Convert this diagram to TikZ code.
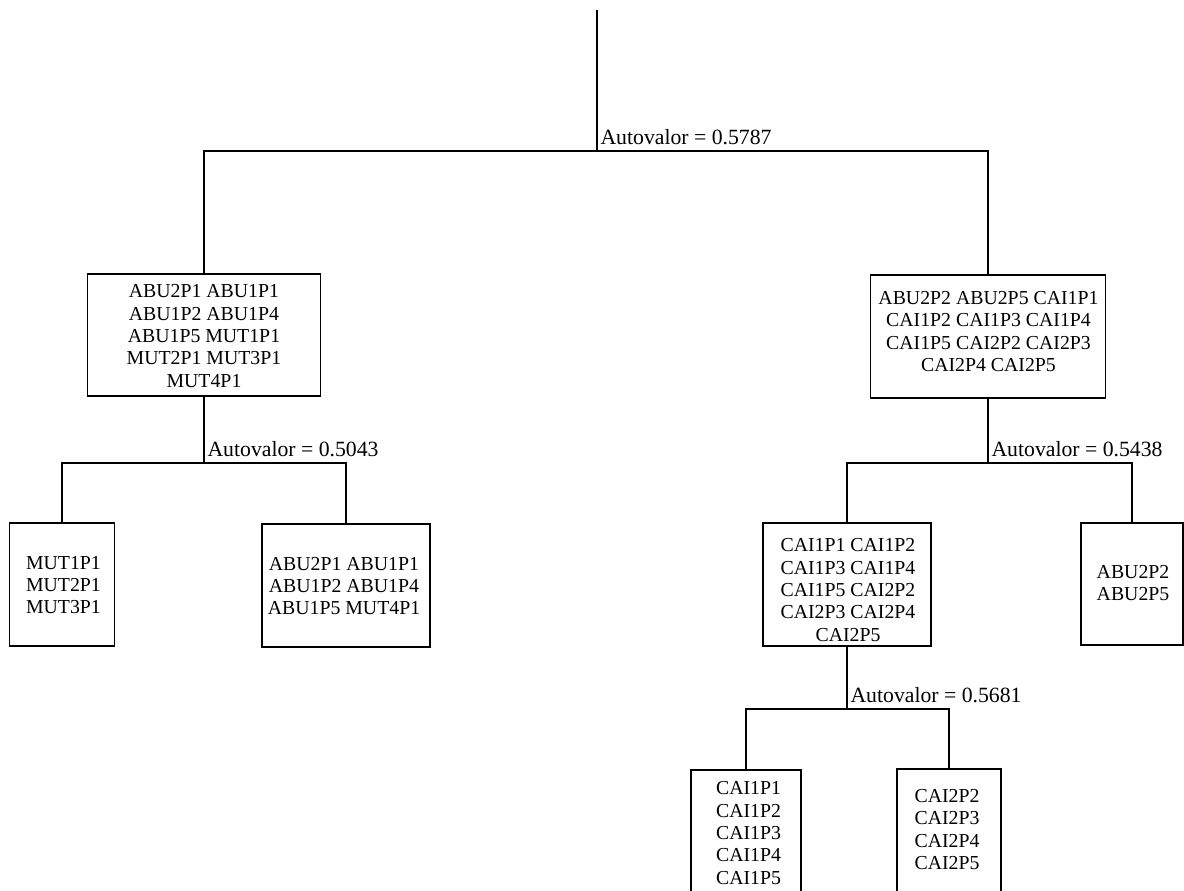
\documentclass[tikz,border=0pt]{standalone}
\usepackage{fontspec}
\setmainfont{Liberation Serif}
\begin{document}
\begin{tikzpicture}[x=0.75pt,y=-0.75pt,
  line width=1.3pt,
  box/.style={draw, inner sep=0pt},
  txt/.style={align=center, inner sep=0pt, font=\fontsize{14.85}{16.8}\selectfont},
  lab/.style={anchor=base west, inner sep=0pt, font=\fontsize{16.3}{19}\selectfont}]
\useasboundingbox (0,0) rectangle (1184,890);
\clip (0,0) rectangle (1184,890);
\fill[white] (0,0) rectangle (1184,890);

% cluster boxes
\node[box, minimum width=233*0.75pt, minimum height=122*0.75pt] (b1) at (204,335) {};
\node[txt] (t1) at (204,336) {ABU2P1 ABU1P1\\ABU1P2 ABU1P4\\ABU1P5 MUT1P1\\MUT2P1 MUT3P1\\MUT4P1};

\node[box, minimum width=235*0.75pt, minimum height=123*0.75pt] (b2) at (988,336.5) {};
\node[txt] (t2) at (988.5,331.5) {ABU2P2 ABU2P5 CAI1P1\\CAI1P2 CAI1P3 CAI1P4\\CAI1P5 CAI2P2 CAI2P3\\CAI2P4 CAI2P5};

\node[box, minimum width=105*0.75pt, minimum height=123*0.75pt] (b3) at (62,584.5) {};
\node[txt] (t3) at (63.5,585) {MUT1P1\\MUT2P1\\MUT3P1};

\node[box, minimum width=168*0.75pt, minimum height=123*0.75pt] (b4) at (346,585.5) {};
\node[txt] (t4) at (344,586) {ABU2P1 ABU1P1\\ABU1P2 ABU1P4\\ABU1P5 MUT4P1};

\node[box, minimum width=168*0.75pt, minimum height=123*0.75pt] (b5) at (847,584.5) {};
\node[txt] (t5) at (848,590) {CAI1P1 CAI1P2\\CAI1P3 CAI1P4\\CAI1P5 CAI2P2\\CAI2P3 CAI2P4\\CAI2P5};

\node[box, minimum width=102*0.75pt, minimum height=122*0.75pt, anchor=west] (b6) at (1080,584) {};
\node[txt] (t6) at (1133,583) {ABU2P2\\ABU2P5};

\node[box, minimum width=110*0.75pt, minimum height=128*0.75pt, anchor=north] (b7) at (746,769) {};
\node[txt] (t7) at (748.5,833) {CAI1P1\\CAI1P2\\CAI1P3\\CAI1P4\\CAI1P5};

\node[box, minimum width=104*0.75pt, minimum height=128*0.75pt, anchor=north] (b8) at (949,768) {};
\node[txt] (t8) at (947,829.5) {CAI2P2\\CAI2P3\\CAI2P4\\CAI2P5};

% junction points of the tree
\coordinate (top) at (597,10);
\coordinate (j0) at (597,151);
\coordinate (j1) at (204,463);
\coordinate (j2) at (988,463);
\coordinate (j3) at (847,709);

% connectors
\draw (top) -- (j0);
\draw (b1.north) |- (j0) -| (b2.north);
\draw (b1.south) -- (j1);
\draw (b3.north) |- (j1) -| (b4.north);
\draw (b2.south) -- (j2);
\draw (b5.north) |- (j2) -| (b6.north);
\draw (b5.south) -- (j3);
\draw (b7.north) |- (j3) -| (b8.north);

% eigenvalue labels
\node[lab] (l0) at ([xshift=2pt,yshift=5pt]j0) {Autovalor = 0.5787};
\node[lab] (l1) at ([xshift=2pt,yshift=5pt]j1) {Autovalor = 0.5043};
\node[lab] (l2) at ([xshift=2pt,yshift=5pt]j2) {Autovalor = 0.5438};
\node[lab] (l3) at ([xshift=2pt,yshift=5pt]j3) {Autovalor = 0.5681};
\end{tikzpicture}
\end{document}
